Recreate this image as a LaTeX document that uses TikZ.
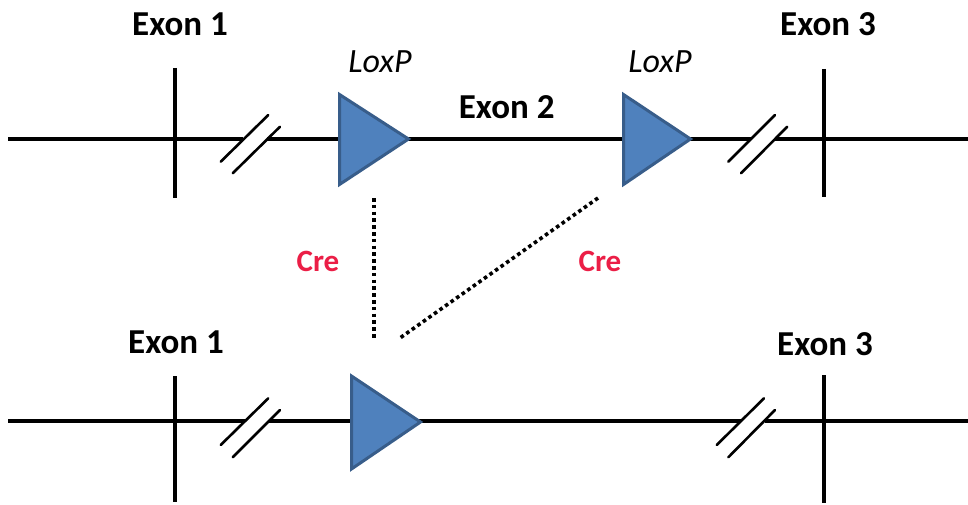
\documentclass[tikz,border=0pt]{standalone}
\usepackage{fontspec}
\setmainfont{Carlito}
\usepackage{xcolor}
\definecolor{LoxFill}{RGB}{79,129,189}
\definecolor{LoxLine}{RGB}{56,93,138}
\definecolor{CreCol}{RGB}{235,30,70}
\usepackage{tikz}
\tikzstyle{Strand}=[draw=black,line width=4.5pt]
\tikzstyle{ExonBar}=[draw=black,line width=4.5pt]
\tikzstyle{Cut}=[draw=black,line width=2.6pt,line cap=round]
\tikzstyle{Site}=[fill=LoxFill,draw=LoxLine,line width=3pt]
\tikzstyle{Recomb}=[draw=black,line width=3.6pt,dash pattern=on 3.6pt off 3.2pt]
\tikzstyle{NodeST}=[font=\fontsize{35}{40}\selectfont\bfseries,anchor=base,inner sep=0pt]
\tikzstyle{NodeLox}=[font=\fontsize{34}{40}\selectfont\itshape,anchor=base,inner sep=0pt]
\tikzstyle{NodeCre}=[font=\fontsize{31}{36}\selectfont\bfseries,text=CreCol,anchor=base,inner sep=0pt]

\begin{document}
\begin{tikzpicture}[x=1pt,y=-1pt]
        \useasboundingbox (0,0) rectangle (968,505);
        % floxed allele
        \coordinate(t0)at(8,139);
        \coordinate(t1)at(243.4,139);
        \coordinate(t2)at(267,139);
        \coordinate(t3)at(751,139);
        \coordinate(t4)at(775.3,139);
        \coordinate(t5)at(968,139);
        \draw[Strand](t0)--(t1);
        \draw[Strand](t2)--(t3);
        \draw[Strand](t4)--(t5);
        \coordinate(e1a)at(175,68);
        \coordinate(e1b)at(175,198);
        \coordinate(e3a)at(824,69);
        \coordinate(e3b)at(824,197);
        \draw[ExonBar](e1a)--(e1b);
        \draw[ExonBar](e3a)--(e3b);
        \coordinate(c1a)at(220.7,161.7);
        \coordinate(c1b)at(268.3,115);
        \coordinate(c2a)at(232.7,173.3);
        \coordinate(c2b)at(280,126.7);
        \coordinate(c3a)at(728.3,161.7);
        \coordinate(c3b)at(775,115);
        \coordinate(c4a)at(741,173.3);
        \coordinate(c4b)at(787.3,126.7);
        \draw[Cut](c1a)--(c1b);
        \draw[Cut](c2a)--(c2b);
        \draw[Cut](c3a)--(c3b);
        \draw[Cut](c4a)--(c4b);
        \coordinate(l1a)at(339.5,94.5);
        \coordinate(l1b)at(339.5,184.5);
        \coordinate(l1c)at(408.5,139);
        \coordinate(l2a)at(623.5,94.5);
        \coordinate(l2b)at(623.5,184.5);
        \coordinate(l2c)at(690.5,139);
        \filldraw[Site](l1a)--(l1b)--(l1c)--cycle;
        \filldraw[Site](l2a)--(l2b)--(l2c)--cycle;
        \node[NodeST](x1)at(180,36){Exon 1};
        \node[NodeST](x2)at(506.7,119){Exon 2};
        \node[NodeST](x3)at(828,36){Exon 3};
        \node[NodeLox](p1)at(380,73){LoxP};
        \node[NodeLox](p2)at(660,73){LoxP};
        % recombination
        \coordinate(d1a)at(374,198);
        \coordinate(d1b)at(374,340);
        \coordinate(d2a)at(598,198);
        \coordinate(d2b)at(400,338);
        \draw[Recomb](d1a)--(d1b);
        \draw[Recomb](d2a)--(d2b);
        \node[NodeCre](r1)at(318,271.7){Cre};
        \node[NodeCre](r2)at(600,271.7){Cre};
        % deleted allele
        \coordinate(b0)at(8,421);
        \coordinate(b1)at(244.7,421);
        \coordinate(b2)at(269,421);
        \coordinate(b3)at(740.7,421);
        \coordinate(b4)at(764.6,421);
        \coordinate(b5)at(968,421);
        \draw[Strand](b0)--(b1);
        \draw[Strand](b2)--(b3);
        \draw[Strand](b4)--(b5);
        \coordinate(f1a)at(175,376);
        \coordinate(f1b)at(175,502);
        \coordinate(f3a)at(824,375);
        \coordinate(f3b)at(824,503);
        \draw[ExonBar](f1a)--(f1b);
        \draw[ExonBar](f3a)--(f3b);
        \coordinate(k1a)at(220.7,445);
        \coordinate(k1b)at(268.3,398.3);
        \coordinate(k2a)at(232.7,457.3);
        \coordinate(k2b)at(280,410);
        \coordinate(k3a)at(716.7,445);
        \coordinate(k3b)at(764,398.3);
        \coordinate(k4a)at(728.3,457.3);
        \coordinate(k4b)at(775,410);
        \draw[Cut](k1a)--(k1b);
        \draw[Cut](k2a)--(k2b);
        \draw[Cut](k3a)--(k3b);
        \draw[Cut](k4a)--(k4b);
        \coordinate(m1a)at(351.5,376);
        \coordinate(m1b)at(351.5,469);
        \coordinate(m1c)at(420.5,422);
        \filldraw[Site](m1a)--(m1b)--(m1c)--cycle;
        \node[NodeST](y1)at(176,353){Exon 1};
        \node[NodeST](y3)at(825,355){Exon 3};
    \end{tikzpicture}
\end{document}
